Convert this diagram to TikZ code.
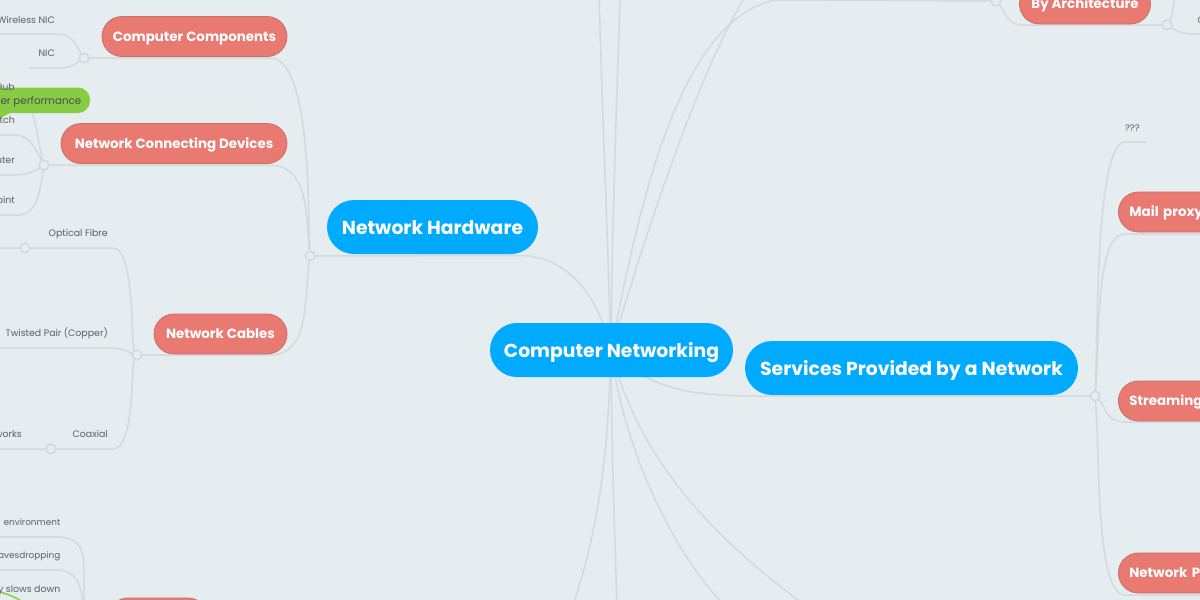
\documentclass[tikz,border=0pt]{standalone}
\usepackage{fontspec}
\setmainfont{Poppins}
\usepackage{xcolor}
\definecolor{bgcol}{HTML}{E5EDF1}
\definecolor{linecol}{HTML}{D2DADD}
\definecolor{rootcol}{HTML}{00AAFF}
\definecolor{subcol}{HTML}{E87A72}
\definecolor{subedge}{HTML}{CE6C66}
\definecolor{notecol}{HTML}{88CC44}
\definecolor{labelcol}{HTML}{5A6066}
\tikzset{
  branch/.style={line width=1.5pt,color=linecol,line cap=round},
  hub/.style={circle,draw=linecol,line width=1.5pt,fill=bgcol,minimum size=9.5pt,inner sep=0pt},
  topic/.style={rounded corners=27pt,fill=rootcol,text=white,font=\fontsize{18.8}{24}\selectfont\bfseries,minimum height=54pt,inner sep=0pt,text height=15pt,text depth=1pt},
  subtopic/.style={rounded corners=20pt,fill=subcol,draw=subedge,line width=.8pt,text=white,font=\fontsize{13.4}{18}\selectfont\bfseries,minimum height=40pt,inner sep=0pt,text height=10pt,text depth=1pt},
  sidetopic/.style={subtopic,anchor=west,inner xsep=11pt,text width=109pt,align=left},
  leaf/.style={text=labelcol,font=\fontsize{9.4}{12}\selectfont,inner sep=0pt,anchor=east,text height=8pt,text depth=2pt},
  smallleaf/.style={leaf,font=\fontsize{8.9}{12}\selectfont},
}
\begin{document}
\begin{tikzpicture}[x=1pt,y=-1pt,line cap=round,line join=round]
      \useasboundingbox (0,0) rectangle (1200,600);
      \clip (0,0) rectangle (1200,600);
      \fill[bgcol] (0,0) rectangle (1200,600);
      % hubs
      \coordinate (center) at (611,350);
      \node[hub] (hwhub) at (310,256) {};
      \node[hub] (comphub) at (84,58) {};
      \node[hub] (devhub) at (44,165) {};
      \node[hub] (cablehub) at (137,355) {};
      \node[hub] (fibrehub) at (25,248) {};
      \node[hub] (coaxhub) at (51,449) {};
      \node[hub] (svchub) at (1095,396) {};
      \node[hub] (archhub) at (996,1) {};
      \node[hub] (archhubb) at (1167,25) {};
      % from the centre
      \draw[branch] (center) .. controls (600,300) and (570,256) .. (520,255.5) -- (hwhub);
      \draw[branch] (center) .. controls (607,220) and (602,100) .. (599,-5);
      \draw[branch] (center) .. controls (612,220) and (617,100) .. (620,-5);
      \draw[branch] (center) .. controls (640,200) and (680,20) .. (775,0) -- (1000,1);
      \draw[branch] (center) .. controls (650,220) and (700,70) .. (746,-5);
      \draw[branch] (center) .. controls (650,390) and (690,396) .. (760,396) -- (svchub);
      \draw[branch] (center) .. controls (608,470) and (595,540) .. (573,605);
      \draw[branch] (center) .. controls (612,470) and (615,540) .. (617,605);
      \draw[branch] (center) .. controls (625,460) and (680,560) .. (724,605);
      \draw[branch] (center) .. controls (640,470) and (730,550) .. (805,605);
      % left side
      \draw[branch] (hwhub) .. controls (308,200) and (310,58) .. (270,58) -- (comphub);
      \draw[branch] (hwhub) .. controls (306,220) and (310,165) .. (270,165) -- (devhub);
      \draw[branch] (hwhub) .. controls (304,300) and (310,355) .. (270,355) -- (cablehub);
      \draw[branch] (comphub) .. controls (76,45) and (72,34) .. (58,34) -- (-5,34);
      \draw[branch] (comphub) .. controls (76,63) and (72,68) .. (60,68) -- (30,68);
      \draw[branch] (devhub) .. controls (40,150) and (36,125) .. (32,110);
      \draw[branch] (devhub) .. controls (36,150) and (30,135) .. (15,135) -- (-5,135);
      \draw[branch] (devhub) .. controls (36,170) and (28,175) .. (15,175) -- (-5,175);
      \draw[branch] (devhub) .. controls (40,190) and (38,215) .. (18,215) -- (-5,215);
      \draw[branch] (cablehub) .. controls (131,345) and (135,248) .. (113,248) -- (fibrehub) -- (-5,248);
      \draw[branch] (cablehub) .. controls (128,352) and (122,348) .. (110,348) -- (-5,348);
      \draw[branch] (cablehub) .. controls (131,365) and (135,449) .. (113,449) -- (coaxhub) -- (-5,449);
      % right side
      \draw[branch] (svchub) .. controls (1098,340) and (1095,142) .. (1125,142) -- (1146,142);
      \draw[branch] (svchub) .. controls (1100,340) and (1095,234) .. (1125,234) -- (1205,234);
      \draw[branch] (svchub) .. controls (1105,405) and (1105,422) .. (1125,422) -- (1205,422);
      \draw[branch] (svchub) .. controls (1100,450) and (1095,595) .. (1125,595) -- (1205,595);
      \draw[branch] (archhub) .. controls (1005,12) and (1008,25) .. (1022,25) -- (archhubb);
      \draw[branch] (archhubb) .. controls (1172,18) and (1173,10) .. (1175,-5);
      \draw[branch] (archhubb) .. controls (1175,30) and (1180,34) .. (1195,34) -- (1205,34);
      \draw[branch] (58,537) .. controls (80,537) and (84,550) .. (84,570) -- (84,605);
      \draw[branch] (-5,537) -- (58,537);
      \draw[branch] (-5,570) -- (58,570) .. controls (75,570) and (82,585) .. (83,605);
      % hubs again, on top
      \foreach \h in {hwhub,comphub,devhub,cablehub,fibrehub,coaxhub,svchub,archhub,archhubb}
      \node[hub] at (\h) {};
      % main topics
      \node[topic,minimum width=243pt] (networking) at (611.5,350) {Computer Networking};
      \node[topic,minimum width=211pt] (hardware) at (432.5,227) {Network Hardware};
      \node[topic,minimum width=333pt] (services) at (911.5,368) {Services Provided by a Network};
      % subtopics
      \node[subtopic,minimum width=185pt] (components) at (194.5,36.5) {Computer Components};
      \node[subtopic,minimum width=226pt] (devices) at (174,143.5) {Network Connecting Devices};
      \node[subtopic,minimum width=133pt] (cables) at (220.5,334) {Network Cables};
      \node[subtopic,minimum width=131pt] (arch) at (1085,4) {By Architecture};
      \node[sidetopic] (mail) at (1118,212) {Mail proxy};
      \node[sidetopic] (stream) at (1118,401) {Streaming};
      \node[sidetopic] (netp) at (1118,573) {Network P};
      \node[subtopic,minimum width=100pt] (lowtopic) at (158,618) {};
      % green note
      \fill[notecol,rounded corners=12pt] (-40,87.5) rectangle (90,113);
      \fill[notecol] (0,112) -- (12,112) -- (0,118) -- cycle;
      \node[leaf,text=labelcol!80!black,font=\fontsize{10.3}{12}\selectfont] (perf) at (81.5,101) {er performance};
      \draw[notecol,line width=1.5pt] (0,592) .. controls (10,595) and (18,598) .. (25,604);
      % leaf labels
      \node[leaf] (wireless) at (55,20) {Wireless NIC};
      \node[leaf] (nic) at (55,53) {NIC};
      \node[leaf] (hublabel) at (15,87) {Hub};
      \node[leaf] (switchlabel) at (15,120) {Switch};
      \node[leaf] (router) at (15,160) {Router};
      \node[leaf] (access) at (15,200) {Access Point};
      \node[leaf] (fibre) at (108,233) {Optical Fibre};
      \node[leaf] (twisted) at (108,333) {Twisted Pair (Copper)};
      \node[leaf] (coax) at (108,434) {Coaxial};
      \node[leaf] (works) at (22,434) {works};
      \node[smallleaf] (envir) at (60.5,522) {environment};
      \node[smallleaf] (eaves) at (60.5,555) {avesdropping};
      \node[leaf] (slows) at (60.5,589) {y slows down};
      \node[leaf] (qqq) at (1140,128) {???};
      \node[leaf] (archleaf) at (1205,20) {C};
    \end{tikzpicture}
\end{document}
